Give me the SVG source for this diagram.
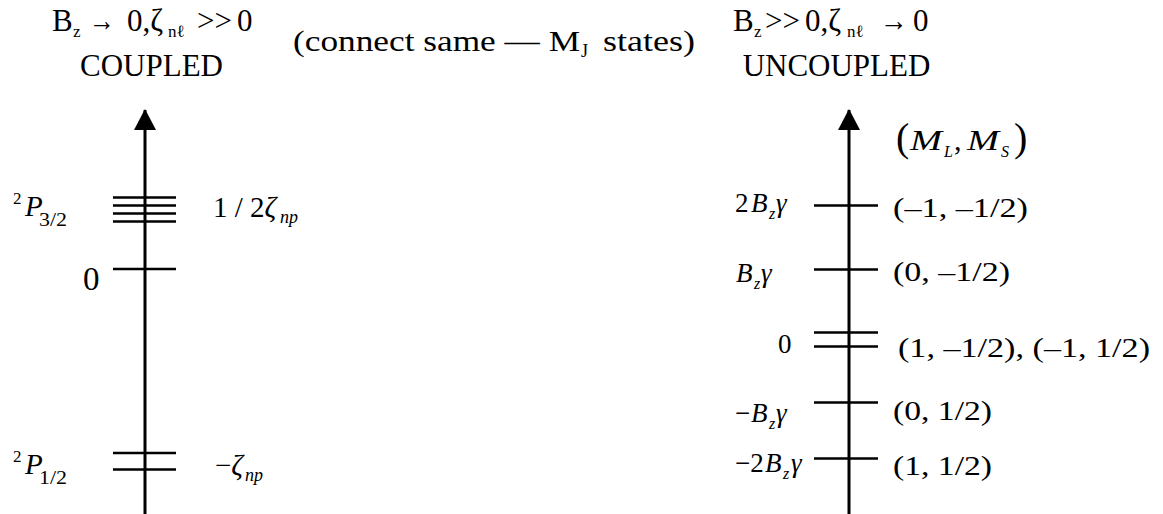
<svg xmlns="http://www.w3.org/2000/svg" width="1163" height="514" viewBox="0 0 1163 514" font-family="'Liberation Serif', serif">
<style>
text, tspan { font-family: 'Liberation Serif', serif; }
.h { font-size: 31px; }
.sb { font-size: 17px; }
.it { font-style: italic; }
.lv { stroke: #000; stroke-width: 2.7; fill: none; }
.ax { stroke: #000; stroke-width: 3; fill: none; }
.lab { font-size: 27px; }
</style>
<defs>
<marker id="arr" viewBox="0 0 21 22" refX="20" refY="11" markerWidth="21" markerHeight="22" markerUnits="userSpaceOnUse" orient="auto">
<path d="M0,0 L21,11 L0,22 Z" fill="#000"/>
</marker>
</defs>
<rect width="1163" height="514" fill="#fff"/>

<g id="header-left">
<text class="h" x="52" y="31">B</text>
<text class="sb" x="73" y="37">z</text>
<text class="h" x="89" y="31" textLength="26" lengthAdjust="spacingAndGlyphs">→</text>
<text class="h" x="127" y="31">0,ζ</text>
<text class="sb" x="168" y="37">nℓ</text>
<text class="h" x="197" y="31" textLength="35" lengthAdjust="spacingAndGlyphs">&gt;&gt;</text>
<text class="h" x="237" y="31">0</text>
<text class="h" x="151.5" y="76" text-anchor="middle">COUPLED</text>
</g>

<g id="header-middle">
<text x="293" y="51" font-size="29" textLength="287" lengthAdjust="spacingAndGlyphs">(connect same — M</text>
<text x="581" y="57" font-size="18">J</text>
<text x="603" y="51" font-size="29" textLength="92" lengthAdjust="spacingAndGlyphs">states)</text>
</g>

<g id="header-right">
<text class="h" x="733" y="31">B</text>
<text class="sb" x="754" y="37">z</text>
<text class="h" x="765" y="31" textLength="35" lengthAdjust="spacingAndGlyphs">&gt;&gt;</text>
<text class="h" x="805" y="31">0,ζ</text>
<text class="sb" x="847" y="37">nℓ</text>
<text class="h" x="880" y="31" textLength="28" lengthAdjust="spacingAndGlyphs">→</text>
<text class="h" x="913" y="31">0</text>
<text class="h" x="836.5" y="76" text-anchor="middle">UNCOUPLED</text>
</g>

<g id="connectors">
<line class="ax" x1="145" y1="514" x2="145" y2="110" marker-end="url(#arr)"/>
<line class="ax" x1="849" y1="514" x2="849" y2="110" marker-end="url(#arr)"/>
</g>

<g id="level-P32">
<line class="lv" x1="113" y1="197.5" x2="176" y2="197.5"/>
<line class="lv" x1="113" y1="205.5" x2="176" y2="205.5"/>
<line class="lv" x1="113" y1="213.5" x2="176" y2="213.5"/>
<line class="lv" x1="113" y1="221.5" x2="176" y2="221.5"/>
<text x="13" y="204" font-size="17">2</text>
<text class="it" x="25" y="216" font-size="29">P</text>
<text x="39" y="226" font-size="18" textLength="28" lengthAdjust="spacingAndGlyphs">3/2</text>
<text x="213" y="217" font-size="29" xml:space="preserve">1 / 2<tspan class="it">ζ</tspan></text>
<text class="it" x="280" y="223" font-size="18">np</text>
</g>

<g id="level-zero-left">
<line class="lv" x1="113" y1="269" x2="176" y2="269"/>
<text x="83" y="290" font-size="33">0</text>
</g>

<g id="level-P12">
<line class="lv" x1="113" y1="453" x2="176" y2="453"/>
<line class="lv" x1="113" y1="469.5" x2="176" y2="469.5"/>
<text x="13" y="462" font-size="17">2</text>
<text class="it" x="25" y="474" font-size="29">P</text>
<text x="39" y="484" font-size="18" textLength="28" lengthAdjust="spacingAndGlyphs">1/2</text>
<text x="215" y="475" font-size="29">−<tspan class="it">ζ</tspan></text>
<text class="it" x="245" y="481" font-size="18">np</text>
</g>

<g id="label-MLMS">
<text x="896" y="151" font-size="40">(</text>
<text class="it" x="910" y="150" font-size="30" textLength="32" lengthAdjust="spacingAndGlyphs">M</text>
<text class="it" x="944" y="157" font-size="16">L</text>
<text x="954" y="150" font-size="30">,</text>
<text class="it" x="967" y="150" font-size="30" textLength="32" lengthAdjust="spacingAndGlyphs">M</text>
<text class="it" x="1001" y="157" font-size="16">S</text>
<text x="1014" y="151" font-size="40">)</text>
</g>

<g id="level-2Bg">
<line class="lv" x1="814" y1="205.5" x2="878" y2="205.5"/>
<text class="lab" x="735" y="212">2<tspan class="it" x="751">B</tspan></text>
<text class="it" x="769" y="219" font-size="16">z</text>
<text class="lab it" x="776" y="212">γ</text>
<text class="lab" x="893" y="217" textLength="135" lengthAdjust="spacingAndGlyphs">(–1, –1/2)</text>
</g>

<g id="level-Bg">
<line class="lv" x1="814" y1="269.5" x2="878" y2="269.5"/>
<text class="lab it" x="736" y="282">B</text>
<text class="it" x="754" y="289" font-size="16">z</text>
<text class="lab it" x="761" y="282">γ</text>
<text class="lab" x="893" y="281" textLength="117" lengthAdjust="spacingAndGlyphs">(0, –1/2)</text>
</g>

<g id="level-zero-right">
<line class="lv" x1="814" y1="332.5" x2="878" y2="332.5"/>
<line class="lv" x1="814" y1="346.5" x2="878" y2="346.5"/>
<text class="lab" x="778" y="353">0</text>
<text class="lab" x="898" y="357" textLength="252" lengthAdjust="spacingAndGlyphs">(1, –1/2), (–1, 1/2)</text>
</g>

<g id="level-mBg">
<line class="lv" x1="814" y1="402.5" x2="878" y2="402.5"/>
<text class="lab" x="735" y="422">−<tspan class="it" x="751">B</tspan></text>
<text class="it" x="769" y="429" font-size="16">z</text>
<text class="lab it" x="776" y="422">γ</text>
<text class="lab" x="893" y="420" textLength="99" lengthAdjust="spacingAndGlyphs">(0, 1/2)</text>
</g>

<g id="level-m2Bg">
<line class="lv" x1="814" y1="458.5" x2="878" y2="458.5"/>
<text class="lab" x="735" y="472">−2<tspan class="it" x="765">B</tspan></text>
<text class="it" x="783" y="479" font-size="16">z</text>
<text class="lab it" x="791" y="472">γ</text>
<text class="lab" x="893" y="475" textLength="99" lengthAdjust="spacingAndGlyphs">(1, 1/2)</text>
</g>
</svg>
